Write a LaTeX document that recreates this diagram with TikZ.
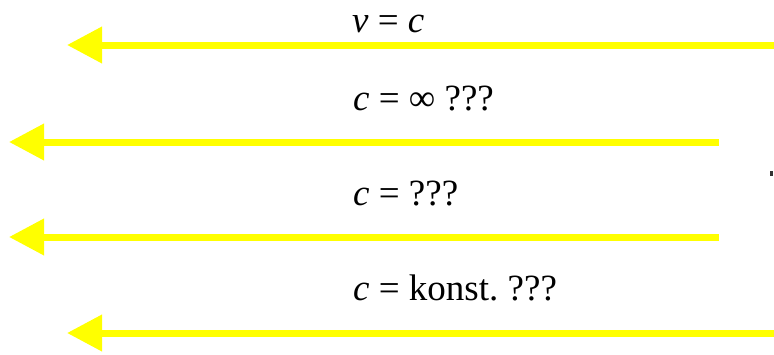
\documentclass[tikz,border=0pt]{standalone}
\usepackage{fontspec}
\setmainfont{Liberation Serif}
\usetikzlibrary{arrows.meta}
\definecolor{arrowyellow}{HTML}{FFFF00}
\frenchspacing
\tikzset{
  yarrow/.style={draw=arrowyellow, line width=7pt, -{Triangle[length=35pt,width=35pt]}},
  lbl/.style={anchor=base west, inner sep=0pt, font=\fontsize{37}{41}\selectfont, text=black},
}
\begin{document}
\begin{tikzpicture}[x=1pt,y=-1pt]
\useasboundingbox (0,0) rectangle (774,354);
% arrow end points
\coordinate (a1s) at (774,45);  \coordinate (a1e) at (67,45);
\coordinate (a2s) at (719,142); \coordinate (a2e) at (9,142);
\coordinate (a3s) at (719,237); \coordinate (a3e) at (9,237);
\coordinate (a4s) at (774,333); \coordinate (a4e) at (67,333);
\draw[yarrow] (a1s) -- (a1e);
\draw[yarrow] (a2s) -- (a2e);
\draw[yarrow] (a3s) -- (a3e);
\draw[yarrow] (a4s) -- (a4e);
% labels
\node[lbl] (t1) at (352,32) {\textit{v} = \textit{c}};
\node[lbl] (t2) at (353,110) {\textit{c} = ∞ ???};
\node[lbl] (t3) at (353,205) {\textit{c} = ???};
\node[lbl] (t4) at (353,300) {\textit{c} = konst. ???};
% small mark at right edge
\fill[black!80] (770,171) rectangle (773,176);
\end{tikzpicture}
\end{document}
